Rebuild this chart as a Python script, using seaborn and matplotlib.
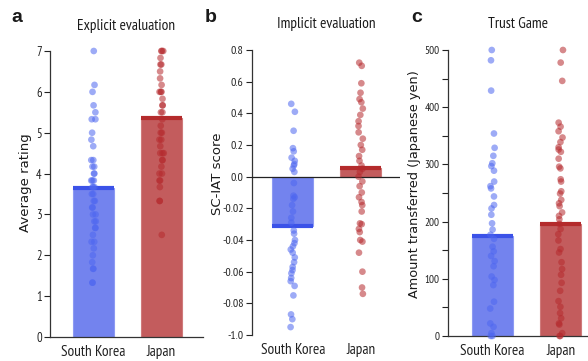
import numpy as np
import pandas as pd
import matplotlib
matplotlib.use('Agg')
import matplotlib.pyplot as plt
import seaborn as sns

countries = ['South Korea', 'Japan']

# Panel a: explicit evaluation (average rating)
a_sk = [7.0, 6.17, 6.0, 5.67, 5.5, 5.33, 5.33, 5.0, 4.83, 4.67, 4.33, 4.33, 4.17, 4.17,
        4.0, 4.0, 3.83, 3.83, 3.83, 3.67, 3.67, 3.67, 3.5, 3.5, 3.33, 3.33, 3.17, 3.17,
        3.0, 3.0, 2.83, 2.83, 2.67, 2.67, 2.5, 2.33, 2.33, 2.17, 2.0, 1.83, 1.67, 1.67,
        1.33, 1.33]
a_jp = [7.0, 7.0, 7.0, 6.83, 6.67, 6.67, 6.5, 6.33, 6.17, 6.0, 6.0, 6.0, 5.83, 5.67,
        5.67, 5.5, 5.5, 5.33, 5.17, 5.0, 5.0, 4.83, 4.83, 4.67, 4.5, 4.5, 4.5, 4.33,
        4.33, 4.17, 4.0, 4.0, 3.83, 3.83, 3.67, 3.33, 3.33, 2.5]
a_means = [3.64, 5.35]

# Panel b: implicit evaluation (SC-IAT score)
b_sk = [0.46, 0.41, 0.29, 0.18, 0.16, 0.12, 0.10, 0.08, 0.07, 0.05, 0.03, -0.04,
        -0.12, -0.13, -0.14, -0.18, -0.22, -0.26, -0.29, -0.34, -0.36, -0.40, -0.42,
        -0.44, -0.46, -0.48, -0.51, -0.54, -0.57, -0.59, -0.61, -0.64, -0.66, -0.69,
        -0.75, -0.87, -0.90, -0.95]
b_jp = [0.72, 0.70, 0.59, 0.53, 0.49, 0.47, 0.43, 0.39, 0.35, 0.32, 0.28, 0.24, 0.20,
        0.17, 0.13, 0.10, 0.07, 0.05, 0.03, 0.0, -0.03, -0.06, -0.10, -0.13, -0.16,
        -0.18, -0.22, -0.295, -0.30, -0.33, -0.35, -0.40, -0.41, -0.48, -0.60, -0.70,
        -0.74]
b_means = [-0.31, 0.057]
b_ticks = [0.8, 0.6, 0.4, 0.2, 0.0, -0.2, -0.4, -0.6, -0.8, -1.0]
b_ticklabels = ['0.8', '0.6', '0.4', '0.2', '0.0', '-0.02', '-0.04', '-0.06', '-0.08', '-1.0']

# Panel c: trust game (yen)
c_sk = [500, 482, 429, 354, 329, 315, 302, 297, 289, 270, 262, 258, 244, 229, 223, 212,
        197, 186, 177, 170, 156, 148, 140, 131, 122, 104, 98, 89, 60, 48, 22, 16, 5, 0, 0]
c_jp = [500, 478, 446, 373, 366, 358, 347, 339, 330, 326, 322, 310, 296, 293, 274, 270,
        253, 249, 238, 232, 227, 216, 210, 204, 196, 187, 178, 167, 152, 146, 129, 117,
        107, 93, 79, 61, 51, 40, 31, 22, 20, 5, 0, 0]
c_means = [174, 196]

bar_colors = {'South Korea': '#7383ee', 'Japan': '#c35c5d'}
line_colors = ['#3b52e8', '#b42b2c']
dot_colors = {'South Korea': '#4d66f0', 'Japan': '#b5292d'}

NARROW = ['PT Sans Narrow', 'DejaVu Sans']
WIDE = ['DejaVu Sans']

sns.set_theme(style='white')
plt.rcParams['font.family'] = NARROW
plt.rcParams['axes.edgecolor'] = '#333333'
plt.rcParams['xtick.color'] = '#222222'
plt.rcParams['ytick.color'] = '#222222'
plt.rcParams['text.color'] = '#1a1a1a'
plt.rcParams['axes.labelcolor'] = '#1a1a1a'

np.random.seed(3)

W, H = 588, 361
fig = plt.figure(figsize=(W / 100, H / 100), dpi=100)


def px_axes(l, r, t, b):
    return fig.add_axes([l / W, 1 - b / H, (r - l) / W, (b - t) / H])


def panel(ax, sk, jp, means):
    df_m = pd.DataFrame({'country': countries, 'value': means})
    sns.barplot(data=df_m, x='country', y='value', hue='country', palette=bar_colors,
                width=0.6, saturation=1, errorbar=None, legend=False, ax=ax,
                linewidth=0.8, zorder=2)
    for p, c in zip(ax.patches, ['#8d9af2', '#cf7a7b']):
        p.set_edgecolor(c)
    for i, m in enumerate(means):
        ax.hlines(m, i - 0.3, i + 0.3, colors=line_colors[i], lw=3, zorder=3)
    df_p = pd.DataFrame({'country': ['South Korea'] * len(sk) + ['Japan'] * len(jp),
                         'value': list(sk) + list(jp)})
    sns.stripplot(data=df_p, x='country', y='value', hue='country', palette=dot_colors,
                  jitter=0.035, size=4.8, alpha=0.55, linewidth=0, legend=False, ax=ax,
                  zorder=4, clip_on=False)
    ax.set_xlabel('')
    ax.tick_params(axis='x', length=0, pad=6, labelsize=11)
    ax.tick_params(axis='y', direction='out', length=4, width=0.8, labelsize=8.5, pad=2,
                   left=True)
    for s in ax.spines.values():
        s.set_linewidth(0.9)


# Panel a
ax1 = px_axes(50, 203, 51, 337)
panel(ax1, a_sk, a_jp, a_means)
ax1.set_ylim(0, 7)
ax1.set_xlim(-0.64, 1.61)
ax1.set_yticks(range(0, 8))
ax1.tick_params(axis='y', labelsize=9)
sns.despine(ax=ax1)
ax1.set_ylabel('Average rating', fontsize=9.5, family=WIDE)
ax1.yaxis.set_label_coords(-0.12, 0.54)
ax1.set_title('Explicit evaluation', fontsize=11, pad=15)

# Panel b
ax2 = px_axes(252, 400, 50, 335)
panel(ax2, b_sk, b_jp, b_means)
ax2.set_ylim(-1.0, 0.8)
ax2.set_xlim(-0.6, 1.58)
ax2.set_yticks(b_ticks)
ax2.set_yticklabels(b_ticklabels)
ax2.axhline(0, color='#222222', lw=0.9, zorder=3.5)
sns.despine(ax=ax2, bottom=True)
ax2.set_ylabel('SC-IAT score', fontsize=9.5, family=WIDE)
ax2.yaxis.set_label_coords(-0.19, 0.567)
ax2.set_title('Implicit evaluation', fontsize=11, pad=16)

# Panel c
ax3 = px_axes(448, 588, 50, 336)
panel(ax3, c_sk, c_jp, c_means)
ax3.set_ylim(0, 500)
ax3.set_xlim(-0.65, 1.4)
ax3.set_yticks(range(0, 501, 100))
ax3.set_yticks(range(50, 500, 100), minor=True)
ax3.tick_params(axis='y', which='minor', direction='out', length=4, width=0.8, left=True)
ax3.tick_params(axis='y', labelsize=8)
sns.despine(ax=ax3)
ax3.set_ylabel('Amount transferred (Japanese yen)', fontsize=9.3, family=WIDE)
ax3.yaxis.set_label_coords(-0.19, 0.53)
ax3.set_title('Trust Game', fontsize=11, pad=16)

for x, lab in [(17, 'a'), (211, 'b'), (417, 'c')]:
    fig.text(x / W, 1 - 18 / H, lab, ha='center', va='center', fontsize=14,
             fontweight='bold', family=['Liberation Sans', 'DejaVu Sans'])

fig.savefig('out.png', dpi=100)
